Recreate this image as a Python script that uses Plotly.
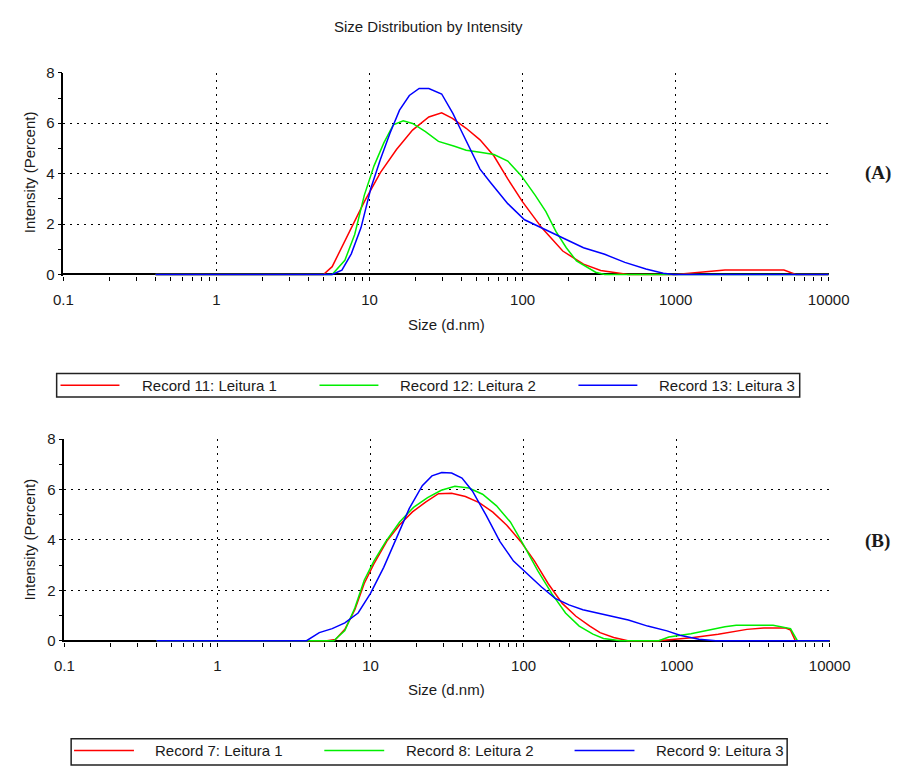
import plotly.graph_objects as go

W, H = 919, 770
OFF = 8  # the page body margin shifts the figure by 8 px

# ---------------- data ----------------
# Panel A
a_red_x = [0.4, 5.0, 5.7, 7.3, 9.25, 11.8, 15.0, 19.1, 24.4, 29.6, 34.8, 42.8, 52.7, 65, 80, 100, 134, 183, 250, 324, 420, 490, 1000, 1400, 2100, 5100, 6100, 10000]
a_red_y = [0, 0, 0.31, 1.6, 2.89, 4.05, 4.96, 5.73, 6.25, 6.41, 6.19, 5.8, 5.34, 4.7, 3.79, 2.88, 1.84, 0.93, 0.41, 0.16, 0.05, 0, 0, 0.09, 0.18, 0.18, 0, 0]

a_green_x = [0.4, 5.7, 6.9, 8.0, 9.25, 10.7, 12.4, 14.3, 16.6, 19.1, 23.2, 28.2, 35.9, 42.8, 52.7, 65, 80, 98, 121, 142, 165, 193, 225, 263, 300, 344, 10000]
a_green_y = [0, 0, 0.56, 1.59, 3.15, 4.31, 5.22, 5.94, 6.1, 5.99, 5.67, 5.28, 5.09, 4.93, 4.85, 4.76, 4.5, 3.92, 3.14, 2.49, 1.71, 1.06, 0.54, 0.29, 0.09, 0, 0]

a_blue_x = [0.4, 5.7, 6.6, 7.6, 8.8, 10.2, 11.8, 13.6, 15.7, 18.2, 21.1, 24.4, 29.6, 35.1, 38.6, 45, 52.7, 61.5, 80, 103, 134, 183, 250, 344, 466, 640, 830, 970, 10000]
a_blue_y = [0, 0, 0.17, 0.82, 1.86, 3.42, 4.58, 5.6, 6.52, 7.1, 7.38, 7.38, 7.16, 6.38, 5.86, 5.02, 4.18, 3.66, 2.81, 2.17, 1.84, 1.45, 1.06, 0.8, 0.48, 0.22, 0.05, 0, 0]

# Panel B
b_red_x = [0.4, 5.2, 5.9, 6.8, 7.9, 9.1, 10.5, 12.8, 15.5, 18.8, 22.9, 27.8, 33.9, 41.7, 51.3, 63, 77.7, 95.7, 118, 145, 179, 220, 271, 316, 388, 444, 480, 760, 1000, 1250, 1870, 2880, 3700, 5160, 5550, 5970, 10000]
b_red_y = [0, 0, 0.05, 0.45, 1.23, 2.27, 3.04, 3.95, 4.6, 5.11, 5.5, 5.83, 5.85, 5.72, 5.48, 5.1, 4.58, 3.94, 3.16, 2.26, 1.48, 0.97, 0.58, 0.32, 0.13, 0.04, 0, 0, 0.07, 0.12, 0.26, 0.45, 0.5, 0.5, 0.42, 0, 0]

b_green_x = [0.4, 5.75, 6.8, 7.9, 9.1, 10.5, 12.6, 15.5, 19.1, 23.6, 29, 35.6, 43.9, 54, 66.6, 82, 100, 124, 153, 188, 231, 284, 333, 388, 430, 765, 890, 1240, 1700, 2070, 2450, 4270, 5550, 6150, 10000]
b_green_y = [0, 0, 0.4, 1.3, 2.4, 3.15, 3.94, 4.71, 5.29, 5.68, 5.97, 6.13, 6.06, 5.81, 5.35, 4.71, 3.8, 2.77, 1.87, 1.1, 0.58, 0.26, 0.09, 0.03, 0, 0, 0.15, 0.28, 0.45, 0.55, 0.61, 0.61, 0.48, 0, 0]

b_blue_x = [0.4, 3.82, 4.63, 5.62, 6.8, 8.3, 10.0, 12.2, 14.8, 17.9, 21.8, 25.2, 29.2, 33.9, 39.6, 46.3, 57, 70, 86, 106, 131, 161, 198, 244, 300, 370, 484, 647, 865, 1050, 1215, 1400, 1800, 10000]
b_blue_y = [0, 0, 0.32, 0.48, 0.71, 1.1, 1.88, 2.91, 4.08, 5.24, 6.15, 6.54, 6.67, 6.65, 6.45, 5.94, 4.97, 3.94, 3.16, 2.65, 2.13, 1.68, 1.42, 1.23, 1.1, 0.97, 0.82, 0.58, 0.39, 0.22, 0.13, 0.06, 0, 0]

names_a = ["Record 11: Leitura 1", "Record 12: Leitura 2", "Record 13: Leitura 3"]
names_b = ["Record 7: Leitura 1", "Record 8: Leitura 2", "Record 9: Leitura 3"]
colors = ["#ff0000", "#00ee00", "#0000ff"]

x_tickvals = [0.1, 1, 10, 100, 1000, 10000]
x_ticktext = ["0.1", "1", "10", "100", "1000", "10000"]
x_minor = [m * 10 ** e for e in range(-1, 4) for m in range(2, 10)]
y_tickvals = [0, 2, 4, 6, 8]
y_minor = [1, 3, 5, 7]

title_text = "Size Distribution by Intensity"
x_title = "Size (d.nm)"
y_title = "Intensity (Percent)"

# ---------------- helpers: reference pixel -> paper ----------------
def px(x):
    return (x - OFF) / W

def py(y):
    return 1 - (y - OFF) / H

FONT = "Liberation Sans, Arial, sans-serif"
TXT = "#1a1a1a"

fig = go.Figure()

series_a = [(a_red_x, a_red_y), (a_green_x, a_green_y), (a_blue_x, a_blue_y)]
series_b = [(b_red_x, b_red_y), (b_green_x, b_green_y), (b_blue_x, b_blue_y)]

for (xs, ys), nm, c in zip(series_a, names_a, colors):
    fig.add_trace(go.Scatter(x=xs, y=ys, mode="lines", name=nm, showlegend=False,
                             line=dict(color=c, width=1.5), xaxis="x", yaxis="y"))
for (xs, ys), nm, c in zip(series_b, names_b, colors):
    fig.add_trace(go.Scatter(x=xs, y=ys, mode="lines", name=nm, showlegend=False,
                             line=dict(color=c, width=1.5), xaxis="x2", yaxis="y2"))

def xaxis_cfg(domain, anchor):
    return dict(type="log", range=[-1, 4], domain=domain, anchor=anchor,
                tickmode="array", tickvals=x_tickvals, ticktext=x_ticktext,
                ticks="outside", ticklen=4, tickcolor="black", tickwidth=1,
                ticklabelstandoff=6,
                tickfont=dict(family=FONT, size=15, color=TXT),
                showgrid=True, gridcolor="black", gridwidth=1, griddash="2px,5px",
                showline=False, zeroline=False, layer="below traces",
                minor=dict(tickmode="array", tickvals=x_minor, ticks="outside",
                           ticklen=4, tickcolor="black", tickwidth=1, showgrid=False))

def yaxis_cfg(domain, anchor):
    return dict(range=[-0.06, 8], domain=domain, anchor=anchor,
                tickmode="array", tickvals=y_tickvals,
                ticks="outside", ticklen=4, tickcolor="black", tickwidth=1,
                tickfont=dict(family=FONT, size=15, color=TXT),
                showgrid=True, gridcolor="black", gridwidth=1, griddash="2px,5px",
                showline=True, linecolor="black", linewidth=1.5,
                zeroline=True, zerolinecolor="black", zerolinewidth=1.5,
                layer="below traces",
                minor=dict(tickmode="array", tickvals=y_minor, ticks="outside",
                           ticklen=4, tickcolor="black", tickwidth=1, showgrid=False))

fig.update_layout(
    width=W, height=H, margin=dict(l=0, r=0, t=0, b=0),
    paper_bgcolor="white", plot_bgcolor="white",
    showlegend=False,
    xaxis=xaxis_cfg([px(55), px(847)], "y"),
    yaxis=yaxis_cfg([py(272.5), py(65)], "x"),
    xaxis2=xaxis_cfg([px(56), px(848)], "y2"),
    yaxis2=yaxis_cfg([py(646.5), py(439)], "x2"),
)

ann = []
def text(x, y, s, size=15, angle=0, bold=False, family=FONT, xanchor="center"):
    ann.append(dict(x=px(x), y=py(y), xref="paper", yref="paper", text=(f"<b>{s}</b>" if bold else s),
                    showarrow=False, textangle=angle, xanchor=xanchor, yanchor="middle",
                    font=dict(family=family, size=size, color=TXT)))

text(433, 18, title_text)
text(451, 322, x_title)
text(451, 695, x_title)
text(20, 167, y_title, angle=-90)
text(20, 542, y_title, angle=-90)
text(898, 167, "(A)", size=19, bold=True, family="Liberation Serif, Times New Roman, serif")
text(898, 543, "(B)", size=19, bold=True, family="Liberation Serif, Times New Roman, serif")

shapes = []
def legend_box(x0, x1, y0, y1, yline, items):
    shapes.append(dict(type="rect", xref="paper", yref="paper", x0=px(x0), x1=px(x1),
                       y0=py(y1), y1=py(y0), line=dict(color="#222", width=1.5),
                       fillcolor="white", layer="above"))
    for (lx0, lx1, tx, name, col) in items:
        shapes.append(dict(type="line", xref="paper", yref="paper", x0=px(lx0), x1=px(lx1),
                           y0=py(yline), y1=py(yline), line=dict(color=col, width=1.5)))
        text(tx, yline, name, xanchor="left")

legend_box(48, 817, 372, 396, 384,
           [(52, 113, 134, names_a[0], colors[0]),
            (320, 381, 401, names_a[1], colors[1]),
            (588, 649, 669, names_a[2], colors[2])])
legend_box(63, 804, 745, 772, 757,
           [(66, 128, 148, names_b[0], colors[0]),
            (325, 387, 407, names_b[1], colors[1]),
            (584, 646, 666, names_b[2], colors[2])])

fig.update_layout(annotations=ann, shapes=shapes)
fig.write_html("out.html")
